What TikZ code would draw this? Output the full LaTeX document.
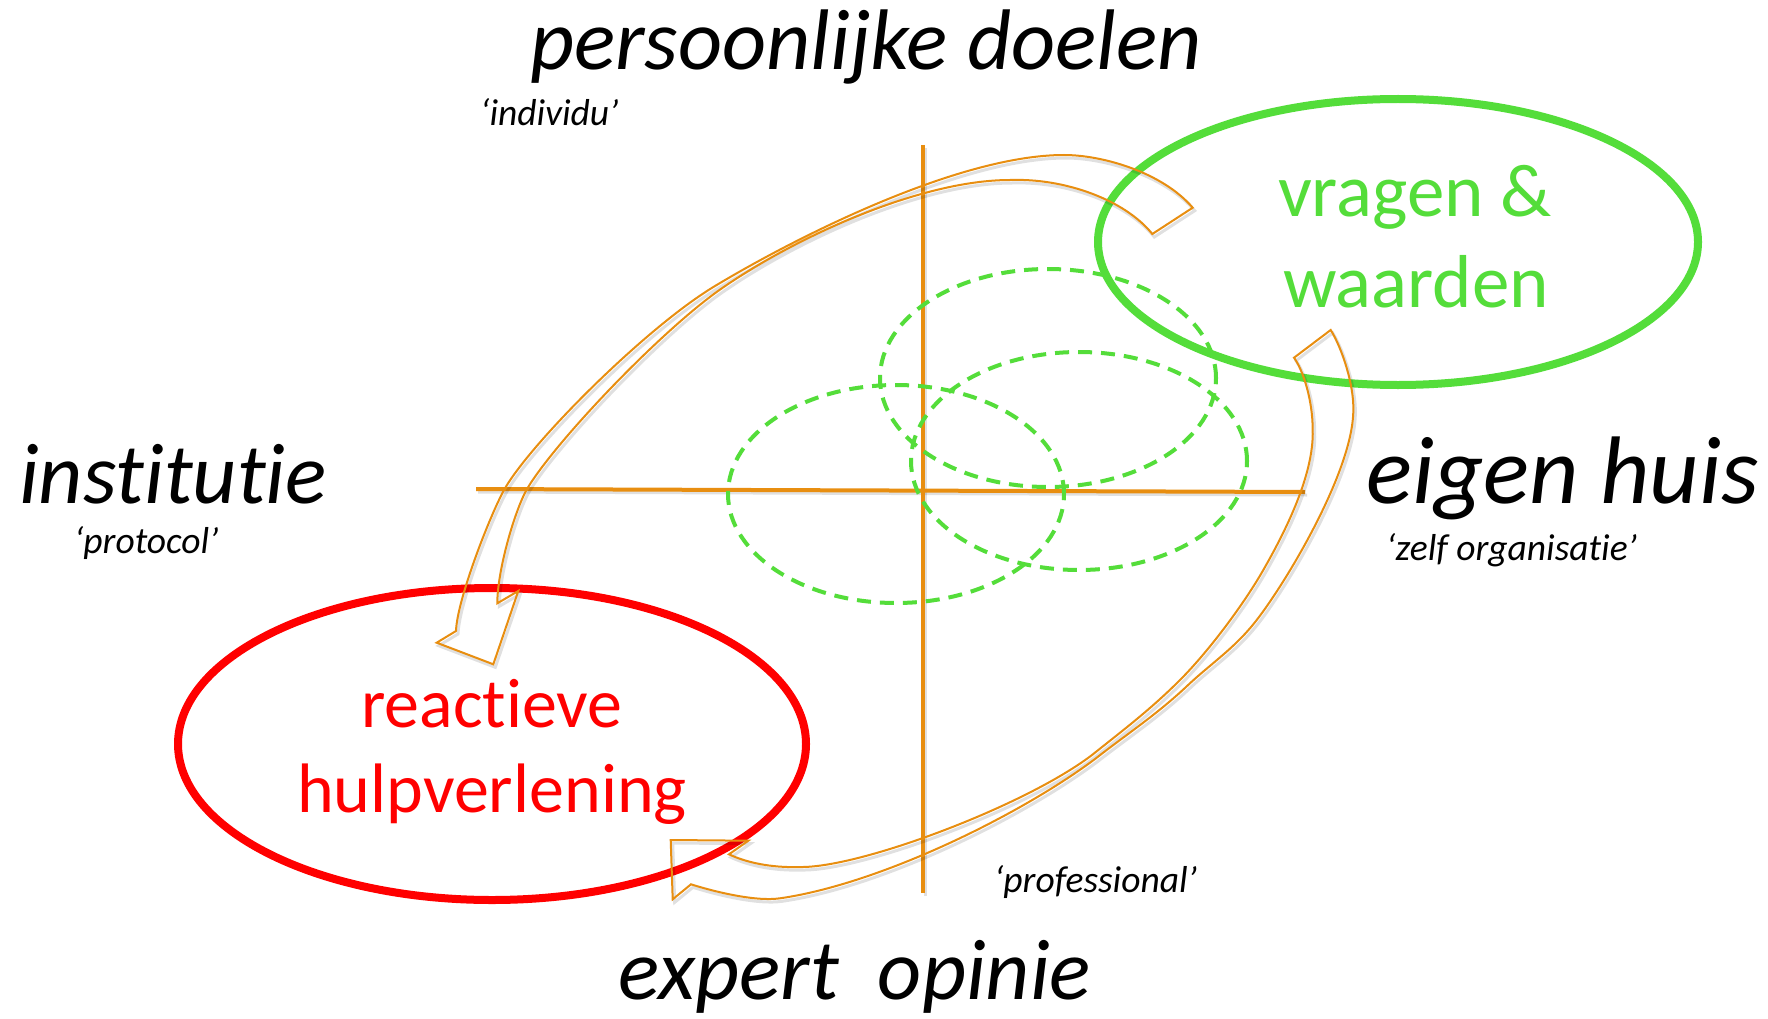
\documentclass[tikz,border=0pt]{standalone}
\usepackage{fontspec}
\setmainfont{Carlito}[Ligatures=NoCommon]
\definecolor{gr}{RGB}{84,221,58}
\definecolor{org}{RGB}{232,142,16}
\definecolor{rd}{RGB}{255,0,0}
\newcommand\arrowApath{(1192.7,207.7) .. controls (1162,172) and (1102,155) .. (1064,155)
  .. controls (960,155) and (800,235) .. (715,286)
  .. controls (645,328) and (530,444) .. (504.6,489)
  .. controls (490,515) and (457,600) .. (456,631)
  -- (436.7,642.7) -- (493.3,664.3) -- (518.3,591) -- (497.3,603.3)
  .. controls (497.3,570) and (515,510) .. (527,489)
  .. controls (555,442) and (658,334) .. (718,291)
  .. controls (793,238) and (920,180) .. (1010,180)
  .. controls (1065,178) and (1125,200) .. (1152.3,234) -- cycle}
\newcommand\arrowBpath{(1330.7,330) .. controls (1342,348) and (1354,385) .. (1353.3,410)
  .. controls (1353.3,470) and (1287,581) .. (1256.7,620)
  .. controls (1234.7,648.6) and (1210,664) .. (1186,687)
  .. controls (1156,715) and (1127,734) .. (1095,759)
  .. controls (1020,815) and (880,884) .. (780,898.3)
  .. controls (755,902) and (712,891) .. (691,884.3)
  -- (672.7,899.3) -- (670.7,840) -- (748.3,840.7) -- (729,854.3)
  .. controls (745,862) and (770,868) .. (800,867)
  .. controls (860,868) and (1025,806) .. (1092,755)
  .. controls (1122,731) and (1150,710) .. (1180,680)
  .. controls (1208,652) and (1243.3,605) .. (1263.3,570)
  .. controls (1285,532) and (1314,475) .. (1312.7,430)
  .. controls (1312.7,400) and (1303,370) .. (1294,357.7) -- cycle}
\begin{document}
\begin{tikzpicture}[x=1pt,y=-1pt,
  axisline/.style={org, line width=4pt},
  shadowline/.style={black, opacity=0.12, line width=3pt},
  solidell/.style={line width=8pt},
  dashell/.style={gr, line width=4pt, dash pattern=on 14pt off 9pt},
  arrowshape/.style={org, line width=2pt, line join=miter},
  bigit/.style={font=\fontsize{86}{92}\selectfont\itshape, inner sep=0pt, anchor=base},
  smallit/.style={font=\fontsize{37.5}{42}\selectfont\itshape, inner sep=0pt, anchor=base west},
  elltext/.style={inner sep=0pt, anchor=base}]
\useasboundingbox (0,0) rectangle (1768,1019);
\fill[white] (0,0) rectangle (1768,1019);

% axes
\coordinate (vtop) at (923,145);
\coordinate (vbot) at (923,893);
\coordinate (hleft) at (476,489);
\coordinate (hright) at (1305,492);
\draw[shadowline] ([shift={(2,3)}]vtop) -- ([shift={(2,3)}]vbot);
\draw[shadowline] ([shift={(2,3)}]hleft) -- ([shift={(2,3)}]hright);
\draw[axisline] (vtop) -- (vbot);
\draw[axisline] (hleft) -- (hright);

% dashed ellipses
\draw[dashell] (1048,378) ellipse [x radius=168pt, y radius=109pt];
\draw[dashell] (1079,461) ellipse [x radius=168pt, y radius=109pt];
\draw[dashell] (896,494) ellipse [x radius=168pt, y radius=109pt];

% solid ellipses
\draw[solidell, gr] (1398,242) ellipse [x radius=300pt, y radius=143pt];
\draw[solidell, rd] (492,744) ellipse [x radius=314pt, y radius=156pt];

% curved arrows
\begin{scope}[shift={(2,3)}]
\draw[shadowline] \arrowApath;
\draw[shadowline] \arrowBpath;
\end{scope}
\draw[arrowshape] \arrowApath;
\draw[arrowshape] \arrowBpath;

% texts
\node[bigit] (pd) at (866,70) {persoonlijke doelen};
\node[smallit] (ind) at (480,126) {‘individu’};
\node[bigit, anchor=base west] (inst) at (19,503) {institutie};
\node[smallit] (prot) at (74,553) {‘protocol’};
\node[bigit, anchor=base west, font=\fontsize{96}{100}\selectfont\itshape] (eh) at (1366,503) {eigen huis};
\node[smallit] (zo) at (1386,560) {‘zelf organisatie’};
\node[smallit] (prof) at (994,892) {‘professional’};
\node[bigit] (eo) at (855,999) {expert\ \ opinie};

\node[elltext, text=gr, font=\fontsize{75}{80}\selectfont] (vw1) at (1415,216) {vragen \&};
\node[elltext, text=gr, font=\fontsize{75}{80}\selectfont] (vw2) at (1416,307) {waarden};
\node[elltext, text=rd, font=\fontsize{70}{80}\selectfont] (rh1) at (492,727) {reactieve};
\node[elltext, text=rd, font=\fontsize{70}{80}\selectfont] (rh2) at (492,812) {hulpverlening};
\end{tikzpicture}
\end{document}
